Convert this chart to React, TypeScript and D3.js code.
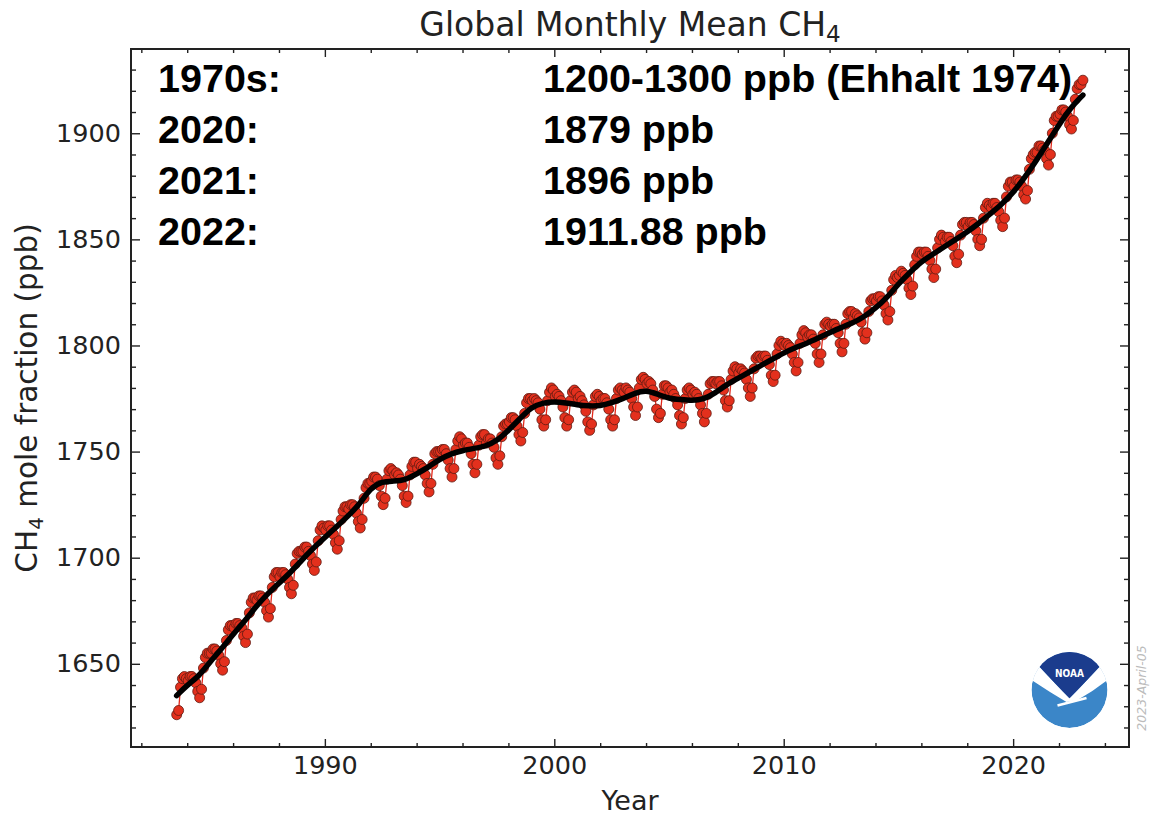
import React, { useRef, useEffect } from 'react';
import * as d3 from 'd3';

// monthly global mean CH4 (ppb), starting July 1983
const startYear = 1983;
const startMonth = 6;
const monthlyCH4 = [
  1626, 1628, 1639, 1643, 1644, 1643, // 1983
  1642, 1644, 1644, 1643, 1641, 1637, 1634, 1638, 1648, 1653, 1655, 1655, // 1984
  1655, 1657, 1657, 1656, 1654, 1650, 1647, 1651, 1661, 1666, 1668, 1668, // 1985
  1667, 1669, 1669, 1668, 1667, 1663, 1660, 1664, 1674, 1679, 1681, 1681, // 1986
  1680, 1682, 1682, 1681, 1679, 1675, 1672, 1676, 1686, 1691, 1693, 1693, // 1987
  1691, 1693, 1693, 1692, 1690, 1686, 1683, 1687, 1697, 1702, 1703, 1703, // 1988
  1703, 1705, 1705, 1703, 1701, 1697, 1694, 1698, 1708, 1713, 1715, 1714, // 1989
  1713, 1715, 1715, 1713, 1711, 1707, 1704, 1708, 1718, 1722, 1724, 1724, // 1990
  1723, 1725, 1725, 1724, 1721, 1717, 1714, 1718, 1728, 1733, 1735, 1735, // 1991
  1736, 1738, 1738, 1737, 1734, 1729, 1725, 1728, 1737, 1741, 1742, 1741, // 1992
  1739, 1740, 1739, 1737, 1734, 1729, 1726, 1729, 1739, 1743, 1745, 1745, // 1993
  1742, 1744, 1743, 1742, 1739, 1735, 1731, 1735, 1744, 1749, 1750, 1750, // 1994
  1750, 1751, 1751, 1749, 1746, 1742, 1738, 1742, 1751, 1755, 1757, 1756, // 1995
  1753, 1754, 1754, 1752, 1749, 1744, 1740, 1744, 1753, 1757, 1758, 1758, // 1996
  1754, 1756, 1756, 1754, 1752, 1747, 1744, 1748, 1757, 1762, 1763, 1763, // 1997
  1764, 1766, 1766, 1765, 1762, 1758, 1755, 1759, 1768, 1773, 1775, 1775, // 1998
  1774, 1775, 1774, 1773, 1770, 1765, 1762, 1765, 1774, 1778, 1780, 1779, // 1999
  1776, 1777, 1776, 1774, 1771, 1766, 1762, 1765, 1774, 1778, 1779, 1778, // 2000
  1775, 1776, 1774, 1772, 1769, 1764, 1760, 1763, 1772, 1776, 1777, 1776, // 2001
  1774, 1775, 1775, 1773, 1770, 1765, 1762, 1765, 1775, 1779, 1780, 1779, // 2002
  1778, 1780, 1779, 1778, 1775, 1771, 1767, 1771, 1780, 1784, 1785, 1784, // 2003
  1782, 1783, 1782, 1779, 1776, 1770, 1766, 1768, 1777, 1781, 1781, 1780, // 2004
  1778, 1779, 1777, 1775, 1772, 1767, 1763, 1766, 1775, 1779, 1780, 1779, // 2005
  1777, 1778, 1777, 1775, 1772, 1768, 1764, 1768, 1777, 1782, 1783, 1783, // 2006
  1782, 1783, 1783, 1781, 1779, 1774, 1771, 1774, 1784, 1788, 1790, 1789, // 2007
  1787, 1789, 1788, 1787, 1784, 1780, 1776, 1780, 1789, 1794, 1795, 1795, // 2008
  1794, 1795, 1795, 1793, 1791, 1786, 1783, 1786, 1796, 1800, 1802, 1801, // 2009
  1800, 1801, 1800, 1799, 1796, 1792, 1788, 1792, 1801, 1805, 1807, 1806, // 2010
  1804, 1805, 1805, 1803, 1801, 1796, 1792, 1796, 1805, 1810, 1811, 1810, // 2011
  1809, 1810, 1810, 1808, 1806, 1801, 1797, 1801, 1810, 1815, 1816, 1816, // 2012
  1813, 1815, 1814, 1813, 1811, 1806, 1803, 1806, 1816, 1821, 1822, 1822, // 2013
  1821, 1823, 1823, 1821, 1819, 1815, 1812, 1816, 1826, 1831, 1833, 1832, // 2014
  1833, 1835, 1834, 1833, 1831, 1827, 1824, 1828, 1838, 1842, 1844, 1844, // 2015
  1843, 1844, 1844, 1842, 1840, 1836, 1832, 1836, 1846, 1850, 1852, 1851, // 2016
  1849, 1851, 1851, 1849, 1847, 1842, 1839, 1843, 1852, 1857, 1858, 1858, // 2017
  1856, 1858, 1858, 1857, 1854, 1850, 1847, 1850, 1860, 1865, 1867, 1866, // 2018
  1865, 1867, 1867, 1865, 1863, 1859, 1856, 1860, 1870, 1875, 1877, 1877, // 2019
  1875, 1878, 1878, 1877, 1875, 1871, 1869, 1873, 1883, 1888, 1890, 1891, // 2020
  1891, 1894, 1894, 1893, 1892, 1888, 1885, 1890, 1900, 1906, 1908, 1908, // 2021
  1909, 1911, 1911, 1910, 1908, 1904, 1902, 1906, 1916, 1921, 1923, 1923, // 2022
  1925, // 2023
];

// deseasonalized trend
const trendYears = [
  1983.54, 1984.0, 1984.5, 1985.0, 1985.5, 1986.0, 1986.5, 1987.0, 1987.5, 1988.0,
  1988.5, 1989.0, 1989.5, 1990.0, 1990.5, 1991.0, 1991.5, 1992.0, 1992.5, 1993.0,
  1993.5, 1994.0, 1994.5, 1995.0, 1995.5, 1996.0, 1996.5, 1997.0, 1997.5, 1998.0,
  1998.5, 1999.0, 1999.5, 2000.0, 2000.5, 2001.0, 2001.5, 2002.0, 2002.5, 2003.0,
  2003.5, 2004.0, 2004.5, 2005.0, 2005.5, 2006.0, 2006.5, 2007.0, 2007.5, 2008.0,
  2008.5, 2009.0, 2009.5, 2010.0, 2010.5, 2011.0, 2011.5, 2012.0, 2012.5, 2013.0,
  2013.5, 2014.0, 2014.5, 2015.0, 2015.5, 2016.0, 2016.5, 2017.0, 2017.5, 2018.0,
  2018.5, 2019.0, 2019.5, 2020.0, 2020.5, 2021.0, 2021.5, 2022.0, 2022.5, 2023.04,
];
const trendValues = [
  1635, 1640, 1644, 1651, 1657, 1664, 1670, 1677, 1683, 1688,
  1693, 1699, 1704.5, 1709.5, 1714.5, 1719.5, 1725, 1733, 1736, 1736,
  1736.5, 1739.5, 1742.5, 1746.5, 1749, 1750.5, 1751.5, 1752.5, 1755, 1760,
  1765.5, 1771, 1773, 1773.5, 1773, 1772, 1771.5, 1771.5, 1773, 1775,
  1777.5, 1779, 1777, 1775, 1774.5, 1774, 1774.5, 1777.5, 1781.5, 1784.5,
  1787.5, 1790.5, 1793.5, 1796.5, 1799, 1801, 1803.5, 1806, 1808.5, 1810.5,
  1813.5, 1817.5, 1822.5, 1829, 1834.5, 1839.5, 1843, 1846.5, 1850, 1853.5,
  1857.5, 1862, 1866.5, 1872, 1879, 1887, 1895.5, 1904, 1912, 1918,
];

const xMajorTicks = [1990, 2000, 2010, 2020];
const yMajorTicks = [1650, 1700, 1750, 1800, 1850, 1900];
const noteLabels = ["1970s:", "2020:", "2021:", "2022:"];
const noteValues = ["1200-1300 ppb (Ehhalt 1974)", "1879 ppb", "1896 ppb", "1911.88 ppb"];

export default function App() {
  const ref = useRef<SVGSVGElement>(null);

  useEffect(() => {
    const svg = d3.select(ref.current);
    svg.selectAll("*").remove();

    const width = 1152;
    const height = 815;
    const margin = { top: 49, right: 23, bottom: 68, left: 131 };
    const axisColor = "#222";
    const font = "DejaVu Sans, sans-serif";

    const x = d3.scaleLinear().domain([1981.55, 2025.05]).range([margin.left, width - margin.right]);
    const y = d3.scaleLinear().domain([1610.8, 1939.7]).range([height - margin.bottom, margin.top]);

    const points = monthlyCH4.map((v, i) => ({
      t: startYear + (startMonth + i + 0.5) / 12,
      v,
    }));

    const xMinor = d3.range(1982, 2025, 2).filter(t => !xMajorTicks.includes(t));
    const yMinor = d3.range(1620, 1940, 10).filter(t => !yMajorTicks.includes(t));

    const styleAxis = (g) => {
      g.select(".domain").remove();
      g.selectAll("line").attr("stroke", axisColor).attr("stroke-width", 1.4);
      g.selectAll("text").attr("fill", axisColor).attr("font-family", font).attr("font-size", 25.5);
    };

    const bottom = height - margin.bottom;
    const right = width - margin.right;

    // bottom axis
    svg.append("g").attr("transform", `translate(0,${bottom})`)
      .call(d3.axisBottom(x).tickValues(xMajorTicks).tickSize(-8).tickPadding(9).tickFormat(d3.format("d")))
      .call(styleAxis);
    svg.append("g").attr("transform", `translate(0,${bottom})`)
      .call(d3.axisBottom(x).tickValues(xMinor).tickSize(-4).tickFormat(() => ""))
      .call(styleAxis);
    // top axis
    svg.append("g").attr("transform", `translate(0,${margin.top})`)
      .call(d3.axisTop(x).tickValues(xMajorTicks).tickSize(-8).tickFormat(() => ""))
      .call(styleAxis);
    svg.append("g").attr("transform", `translate(0,${margin.top})`)
      .call(d3.axisTop(x).tickValues(xMinor).tickSize(-4).tickFormat(() => ""))
      .call(styleAxis);
    // left axis
    svg.append("g").attr("transform", `translate(${margin.left},0)`)
      .call(d3.axisLeft(y).tickValues(yMajorTicks).tickSize(-9).tickPadding(10).tickFormat(d3.format("d")))
      .call(styleAxis);
    svg.append("g").attr("transform", `translate(${margin.left},0)`)
      .call(d3.axisLeft(y).tickValues(yMinor).tickSize(-5).tickFormat(() => ""))
      .call(styleAxis);
    // right axis
    svg.append("g").attr("transform", `translate(${right},0)`)
      .call(d3.axisRight(y).tickValues(yMajorTicks).tickSize(-9).tickFormat(() => ""))
      .call(styleAxis);
    svg.append("g").attr("transform", `translate(${right},0)`)
      .call(d3.axisRight(y).tickValues(yMinor).tickSize(-5).tickFormat(() => ""))
      .call(styleAxis);

    // frame
    svg.append("rect")
      .attr("x", margin.left)
      .attr("y", margin.top)
      .attr("width", right - margin.left)
      .attr("height", bottom - margin.top)
      .attr("fill", "none")
      .attr("stroke", axisColor)
      .attr("stroke-width", 2);

    // monthly data
    const line = d3.line().x(d => x(d.t)).y(d => y(d.v));
    svg.append("path")
      .datum(points)
      .attr("d", line)
      .attr("fill", "none")
      .attr("stroke", "#e3291b")
      .attr("stroke-width", 1.3);

    svg.append("g")
      .selectAll("circle")
      .data(points)
      .enter()
      .append("circle")
      .attr("cx", d => x(d.t))
      .attr("cy", d => y(d.v))
      .attr("r", 5)
      .attr("fill", "#e3301d")
      .attr("stroke", "#5e1a12")
      .attr("stroke-width", 0.8);

    // trend
    const trend = trendYears.map((t, i) => ({ t, v: trendValues[i] }));
    svg.append("path")
      .datum(trend)
      .attr("d", d3.line().x(d => x(d.t)).y(d => y(d.v)).curve(d3.curveBasis))
      .attr("fill", "none")
      .attr("stroke", "#000")
      .attr("stroke-width", 5.5)
      .attr("stroke-linecap", "round");

    // title
    const title = svg.append("text")
      .attr("x", 630)
      .attr("y", 36)
      .attr("text-anchor", "middle")
      .attr("font-family", font)
      .attr("font-size", 33)
      .attr("fill", axisColor);
    title.append("tspan").text("Global Monthly Mean CH");
    title.append("tspan").attr("dy", 6).attr("font-size", 23).text("4");

    // x label
    svg.append("text")
      .attr("x", 630)
      .attr("y", 810)
      .attr("text-anchor", "middle")
      .attr("font-family", font)
      .attr("font-size", 27)
      .attr("fill", axisColor)
      .text("Year");

    // y label
    const yl = svg.append("text")
      .attr("transform", "translate(37,398) rotate(-90)")
      .attr("text-anchor", "middle")
      .attr("font-family", font)
      .attr("font-size", 29.5)
      .attr("fill", axisColor);
    yl.append("tspan").text("CH");
    yl.append("tspan").attr("dy", 6).attr("font-size", 20).text("4");
    yl.append("tspan").attr("dy", -6).text(" mole fraction (ppb)");

    // notes
    const notes = svg.append("g")
      .attr("font-family", "Liberation Sans, Arial, sans-serif")
      .attr("font-weight", "bold")
      .attr("font-size", 39.5)
      .attr("fill", "#000");
    noteLabels.forEach((label, i) => {
      notes.append("text").attr("x", 158).attr("y", 92 + i * 51).text(label);
      notes.append("text").attr("x", 543).attr("y", 92 + i * 51).text(noteValues[i]);
    });

    // NOAA logo
    svg.append("defs").append("clipPath").attr("id", "noaa-clip")
      .append("circle").attr("cx", 1069.5).attr("cy", 690).attr("r", 38);
    const logo = svg.append("g").attr("clip-path", "url(#noaa-clip)")
      .append("g").attr("transform", "translate(1069.5,690)");
    logo.append("circle").attr("r", 38).attr("fill", "#3b86c8");
    logo.append("path")
      .attr("d", "M-45,-26 L-30,-23.3 Q-14,-6 0,8.3 Q14,-6 30,-23.3 L45,-26 L45,-10 L38,-10 Q24,1 8,10 L-3,12 Q-20,2 -38,-10 L-45,-10 Z")
      .attr("fill", "#fff");
    logo.append("path")
      .attr("d", "M-45,-45 L45,-45 L45,-26 L30,-23.3 Q14,-6 0,8.3 Q-14,-6 -30,-23.3 L-45,-26 Z")
      .attr("fill", "#1b3c8d");
    logo.append("path")
      .attr("d", "M-12,15.5 L17,8")
      .attr("stroke", "#fff")
      .attr("stroke-width", 2.5);
    logo.append("text")
      .attr("x", 0)
      .attr("y", -13)
      .attr("text-anchor", "middle")
      .attr("font-family", "DejaVu Sans Condensed, DejaVu Sans, sans-serif")
      .attr("font-weight", "bold")
      .attr("font-size", 10)
      .attr("fill", "#fff")
      .text("NOAA");

    // date stamp
    svg.append("text")
      .attr("transform", "translate(1146,688) rotate(-90)")
      .attr("text-anchor", "middle")
      .attr("font-family", font)
      .attr("font-style", "italic")
      .attr("font-size", 12.5)
      .attr("fill", "#bbb")
      .text("2023-April-05");
  }, []);

  return (
    <svg
      ref={ref}
      width={1152}
      height={815}
      style={{ position: "absolute", left: 0, top: 0, background: "#fff" }}
    ></svg>
  );
}
